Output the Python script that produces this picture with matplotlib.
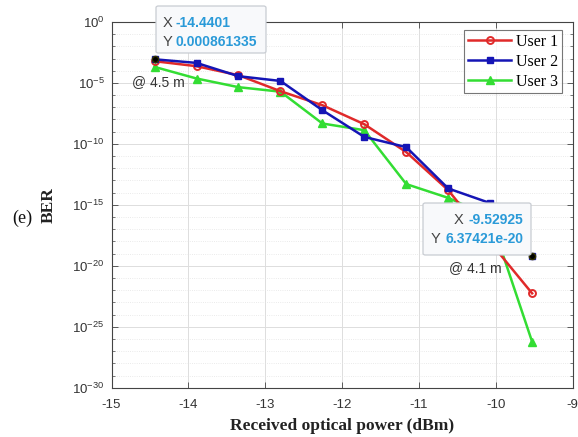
import numpy as np
import matplotlib
matplotlib.use("Agg")
import matplotlib.pyplot as plt
from matplotlib.patches import FancyBboxPatch
from matplotlib.ticker import FixedLocator, FixedFormatter, NullFormatter

# Received optical power (dBm) for each measurement
power_dbm = [-14.4401, -13.8945, -13.3489, -12.8032, -12.2576,
             -11.7120, -11.1664, -10.6205, -10.0749, -9.52925]

# log10(BER) per user
log_ber_user1 = [-3.22, -3.63, -4.37, -5.68, -6.83, -8.39, -10.68, -13.80, -18.07, -22.26]
log_ber_user2 = [-3.065, -3.36, -4.45, -4.84, -7.24, -9.43, -10.27, -13.66, -14.86, -19.196]
log_ber_user3 = [-3.69, -4.64, -5.35, -5.72, -8.33, -8.88, -13.30, -14.43, -15.97, -26.23]

series_names = ["User 1", "User 2", "User 3"]
y_tick_exps = [0, -5, -10, -15, -20, -25, -30]
x_ticks = [-15, -14, -13, -12, -11, -10, -9]

# data tips
tip1 = (-14.4401, 0.000861335)
tip2 = (-9.52925, 6.37421e-20)

fig = plt.figure(figsize=(5.78, 4.37), dpi=100)
ax = fig.add_axes([0.193, 0.1128, 0.798, 0.837])

tick_font = "Liberation Sans"
serif_font = "Liberation Serif"

ax.plot(power_dbm, 10.0 ** np.array(log_ber_user1), color="#e02a2a", lw=1.8,
        marker="o", ms=5, mfc="none", mew=1.4, label=series_names[0], zorder=3)
ax.plot(power_dbm, 10.0 ** np.array(log_ber_user2), color="#1515b5", lw=1.8,
        marker="s", ms=5, mfc="#1515b5", label=series_names[1], zorder=4)
ax.plot(power_dbm, 10.0 ** np.array(log_ber_user3), color="#33dd33", lw=1.8,
        marker="^", ms=6, mfc="#33dd33", label=series_names[2], zorder=2)

ax.set_yscale("log")
ax.set_xlim(-15, -9)
ax.set_ylim(1e-30, 1e0)

ax.yaxis.set_major_locator(FixedLocator([10.0 ** e for e in y_tick_exps]))
ax.yaxis.set_major_formatter(FixedFormatter(
    [r"$\mathregular{10^{%d}}$" % e for e in y_tick_exps]))
ax.yaxis.set_minor_locator(FixedLocator([10.0 ** e for e in range(-30, 1)]))
ax.yaxis.set_minor_formatter(NullFormatter())
ax.set_xticks(x_ticks)
ax.set_xticklabels([str(v) for v in x_ticks])

for lbl in ax.get_xticklabels() + ax.get_yticklabels():
    lbl.set_fontfamily(tick_font)
    lbl.set_fontsize(9.5)
    lbl.set_color("#333333")

ax.tick_params(which="both", direction="in", color="#444444")
ax.tick_params(which="major", length=4, width=0.6, top=True, right=True)
ax.tick_params(which="minor", length=2, width=0.5, right=True)
ax.tick_params(axis="x", which="major", pad=8)
ax.tick_params(axis="y", which="major", pad=5)
ax.grid(True, which="major", color="#dddddd", lw=0.7)
ax.grid(True, which="minor", axis="y", color="#e3e3e3", lw=0.6, ls=":")
ax.set_axisbelow(True)
for sp in ax.spines.values():
    sp.set_color("#444444")
    sp.set_linewidth(0.8)

ax.set_xlabel("Received optical power (dBm)", fontfamily=serif_font,
              fontweight="bold", fontsize=12.5, color="#222222", labelpad=5)
ax.set_ylabel("BER", fontfamily=serif_font, fontweight="bold",
              fontsize=12.5, color="#222222", labelpad=11)
fig.text(0.038, 0.50, "(e)", fontfamily=serif_font, fontsize=13,
         color="#111111", va="center", ha="center")

leg = ax.legend(loc="upper right", bbox_to_anchor=(0.984, 0.988),
                prop={"family": serif_font, "size": 11.5}, frameon=True,
                fancybox=False, handlelength=2.7, handletextpad=0.3,
                borderpad=0.25, labelspacing=0.25, borderaxespad=0.2)
leg.get_frame().set_edgecolor("#555555")
leg.get_frame().set_linewidth(0.8)

# data tip markers
ax.plot([tip1[0], tip2[0]], [tip1[1], tip2[1]], ls="none", marker="o",
        ms=4.5, mfc="black", mec="#333300", zorder=6)

# distance annotations
fig.text(132 / 578, 1 - 81.7 / 437, "@ 4.5 m", fontfamily=tick_font,
         fontsize=10, color="#333333", va="center", ha="left")
fig.text(449 / 578, 1 - 267.7 / 437, "@ 4.1 m", fontfamily=tick_font,
         fontsize=10, color="#333333", va="center", ha="left")

tip_blue = "#2a9ad8"
tip_gray = "#444444"

def tip_box(x0, y0, w, h):
    box = FancyBboxPatch((x0, y0), w, h, boxstyle="round,pad=0,rounding_size=0.004",
                         transform=fig.transFigure, facecolor="#f8f9fb",
                         edgecolor="#c8ccd2", lw=0.9, zorder=10)
    fig.patches.append(box)

# upper-left tip
tip_box(156 / 578, 1 - 53 / 437, 110 / 578, 47 / 437)
fig.text(163 / 578, 1 - 23.3 / 437, "X", fontfamily=tick_font, fontsize=10.5,
         color=tip_gray, va="center", ha="left", zorder=11)
fig.text(163 / 578, 1 - 42.3 / 437, "Y", fontfamily=tick_font, fontsize=10.5,
         color=tip_gray, va="center", ha="left", zorder=11)
fig.text(176 / 578, 1 - 23.3 / 437, "%.6g" % tip1[0], fontfamily=tick_font,
         fontsize=10, fontweight="bold", color=tip_blue, va="center",
         ha="left", zorder=11)
fig.text(176 / 578, 1 - 42.3 / 437, "%.6g" % tip1[1], fontfamily=tick_font,
         fontsize=10, fontweight="bold", color=tip_blue, va="center",
         ha="left", zorder=11)

# lower-right tip (right aligned)
tip_box(423 / 578, 1 - 255 / 437, 108 / 578, 52 / 437)
fig.canvas.draw()
renderer = fig.canvas.get_renderer()
for label, val, ypx in (("X", "%.6g" % tip2[0], 220),
                        ("Y", "%.6g" % tip2[1], 239)):
    t = fig.text(523 / 578, 1 - ypx / 437, val, fontfamily=tick_font,
                 fontsize=10, fontweight="bold", color=tip_blue,
                 va="center", ha="right", zorder=11)
    bb = t.get_window_extent(renderer)
    fig.text((bb.x0 - 5) / fig.bbox.width, 1 - ypx / 437, label,
             fontfamily=tick_font, fontsize=10.5, color=tip_gray,
             va="center", ha="right", zorder=11)

fig.savefig("out.png", dpi=100)
